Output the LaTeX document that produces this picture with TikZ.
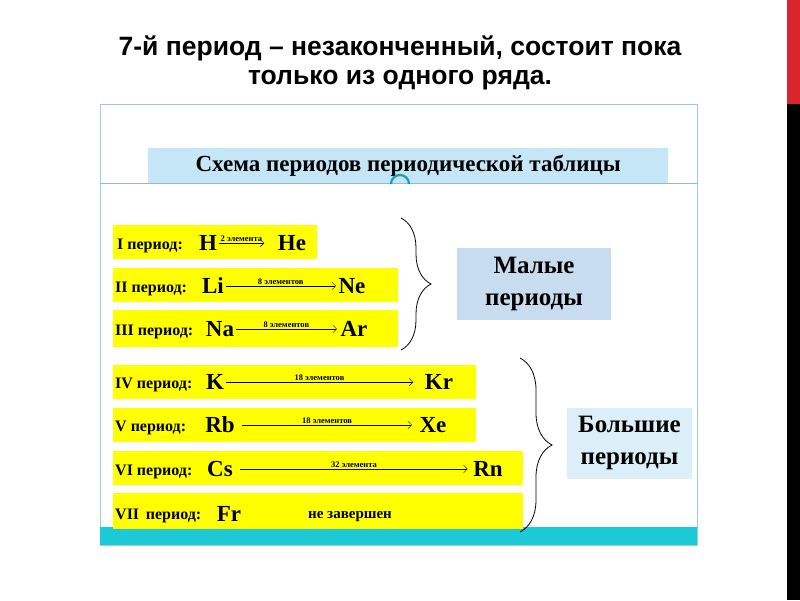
\documentclass[tikz,border=0pt]{standalone}
\usepackage{fontspec}
\setmainfont{Liberation Serif}
\newfontfamily\titulo{Liberation Sans}
\usetikzlibrary{positioning,arrows.meta,decorations.pathreplacing}

\definecolor{amarillo}{HTML}{FFFF00}
\definecolor{azulcab}{HTML}{C4E6F7}
\definecolor{azulmal}{HTML}{C8DCF0}
\definecolor{azulbol}{HTML}{DCEFF8}
\definecolor{turquesa}{HTML}{1CC9D6}
\definecolor{marco}{HTML}{9ACFCF}
\definecolor{rojo}{HTML}{D9262B}

\begin{document}
\begin{tikzpicture}[
  x=1pt, y=-1pt,
  barra/.style={fill=amarillo, anchor=west, minimum height=34pt, inner sep=0pt},
  per/.style={anchor=west, font=\fontsize{16}{18}\selectfont\bfseries, inner sep=0pt},
  elem/.style={font=\fontsize{23}{25}\selectfont\bfseries, inner sep=1.5pt},
  num/.style={font=\fontsize{8.5}{9}\selectfont\bfseries, inner sep=1pt, above},
  flecha/.style={-{Straight Barb[length=1.3mm]}, thin},
  llave/.style={decorate, decoration={brace, amplitude=#1}, thick},
  grupo/.style={align=center, font=\fontsize{25}{32}\selectfont\bfseries, inner sep=0pt}
]
\useasboundingbox (0,0) rectangle (800,600);
\fill[white] (0,0) rectangle (800,600);

% Titulo
\node[font=\titulo\fontsize{26.5}{29}\selectfont\bfseries, align=center] (tit) at (400,63)
  {7-й период – незаконченный, состоит пока\\только из одного ряда.};

% Borde derecho
\fill[rojo] (787,0) rectangle (800,104);
\fill[black] (787,104) rectangle (800,600);

% Marco
\draw[marco, semithick] (100,104) rectangle (697,545);
\draw[marco!80!gray] (100,183) -- (697,183);
\fill[turquesa] (100,527) rectangle (697,545);
\node[fill=azulcab, minimum width=520pt, minimum height=35pt, anchor=north west,
  font=\fontsize{23}{25}\selectfont\bfseries, inner sep=0pt] (cab) at (148,148)
  {Схема периодов периодической таблицы};
\draw[turquesa!80!black, line width=2.2pt] (391,184) arc[start angle=180, end angle=360, radius=9];

% Franjas amarillas
\node[barra, minimum width=204pt] (b1) at (113,242) {};
\node[barra, minimum width=285pt] (b2) at (113,285) {};
\node[barra, minimum width=285pt, minimum height=37pt] (b3) at (113,328.5) {};
\node[barra, minimum width=363pt] (b4) at (113,381.5) {};
\node[barra, minimum width=363pt] (b5) at (113,424.5) {};
\node[barra, minimum width=410pt] (b6) at (113,468) {};
\node[barra, minimum width=410pt, minimum height=36pt] (b7) at (113,511) {};

% Periodos
\node[per] (p1) at (117,246) {I период:};
\node[per] (p2) at (115,289) {II период:};
\node[per] (p3) at (115,332) {III период:};
\node[per] (p4) at (115,385) {IV период:};
\node[per] (p5) at (115,428) {V период:};
\node[per] (p6) at (115,472) {VI период:};
\node[per] (p7) at (115,516) {VII\, период:};

% Elementos
\node[elem] (h) at (208,243) {H};
\node[elem] (he) at (292,243) {He};
\node[elem] (li) at (213,286) {Li};
\node[elem] (ne) at (352,286) {Ne};
\node[elem] (na) at (220,329) {Na};
\node[elem] (ar) at (354,329) {Ar};
\node[elem] (k) at (215,382) {K};
\node[elem] (kr) at (439,382) {Kr};
\node[elem] (rb) at (220,425) {Rb};
\node[elem] (xe) at (433,425) {Xe};
\node[elem] (cs) at (220,469) {Cs};
\node[elem] (rn) at (488,469) {Rn};
\node[elem] (fr) at (229,514) {Fr};
\node[font=\fontsize{15}{17}\selectfont\bfseries] (nc) at (350,517) {не завершен};

\draw[flecha] (h.east) -- node[num] {2 элемента} ([xshift=-12pt]he.west);
\draw[flecha] (li.east) -- node[num] {8 элементов} ([xshift=-1pt]ne.west);
\draw[flecha] (na.east) -- node[num] {8 элементов} ([xshift=-2pt]ar.west);
\draw[flecha] (k.east) -- node[num] {18 элементов} ([xshift=-10pt]kr.west);
\draw[flecha] ([xshift=6pt]rb.east) -- node[num] {18 элементов} ([xshift=-6pt]xe.west);
\draw[flecha] ([xshift=6pt]cs.east) -- node[num] {32 элемента} ([xshift=-4pt]rn.west);

% Llaves
\coordinate (l1a) at (401,218);
\coordinate (l1b) at (401,350);
\coordinate (l2a) at (520,358);
\coordinate (l2b) at (520,532);
\draw[llave=30pt] (l1a) -- (l1b);
\draw[llave=32pt] (l2a) -- (l2b);

% Grupos
\node[grupo, fill=azulmal, minimum width=154pt, minimum height=72pt] (mal) at (534,284)
  {Малые\\периоды};
\node[grupo, fill=azulbol, minimum width=125pt, minimum height=71pt] (bol) at (629.5,443)
  {Большие\\периоды};
\end{tikzpicture}
\end{document}
